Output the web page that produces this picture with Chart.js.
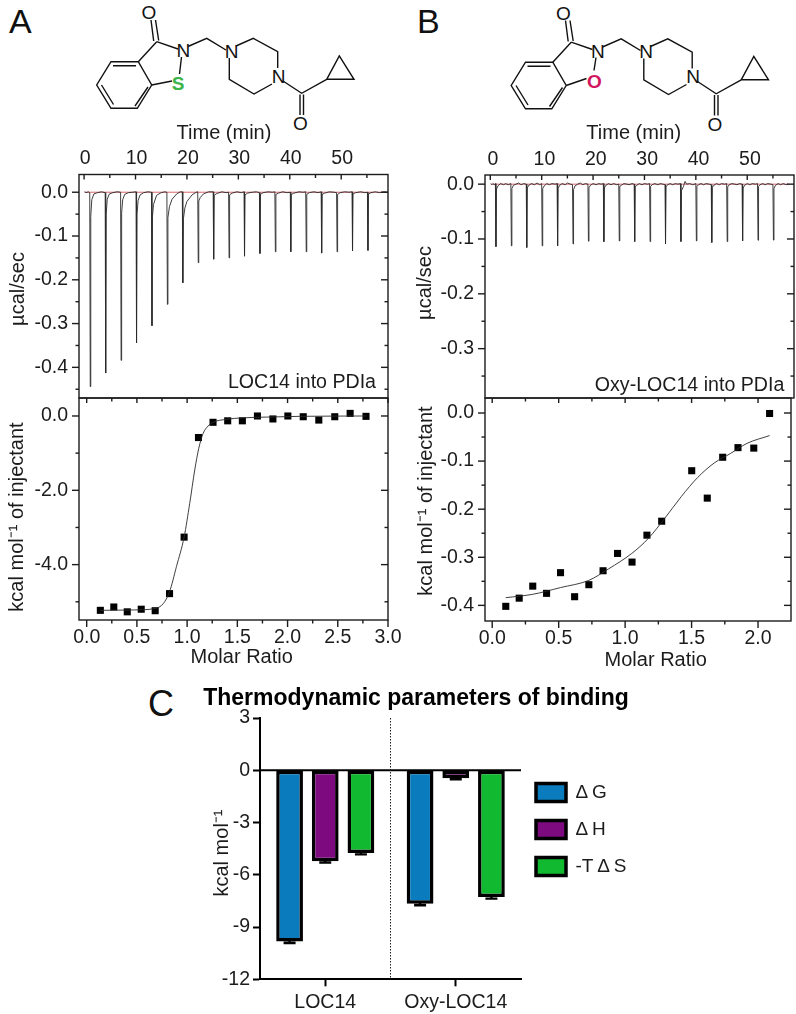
<!DOCTYPE html>
<html><head><meta charset="utf-8">
<style>
html,body{margin:0;padding:0;background:#fff;width:796px;height:1014px;overflow:hidden}
canvas{position:absolute;display:block}
svg{position:absolute;left:0;top:0}
</style>
<script src="https://cdn.jsdelivr.net/npm/chart.js@4"></script>
</head><body>
<svg width="796" height="1014" font-family="Liberation Sans">
<defs>
<g id="skeleton" fill="none" stroke="#111" stroke-width="1.4">
<path d="M138.3 61.7H111L96.7 85L111 108.3H137.3L151.7 85Z"/>
<path d="M113 65.7H136M101.5 85L113.5 104.5M148 87L135 106"/>
<path d="M156.7 41.7L138.3 61.7M178 49L156.7 41.7M153.7 41L151 20M158.7 40.5L155.5 20"/>
<path d="M188 46.5L206.7 38.3L226 50"/>
<path d="M236 46L253.3 38.3L277.7 51.7V68M272 84L254 94L229.3 79.3V58"/>
<path d="M283 81L301.7 93.3L326.7 79.3M326.7 79.3L339.3 56L354 79.3Z"/>
<path d="M300 94.5V115M303.5 94.5V115"/>
</g>
</defs>
<text x="9" y="33" font-size="34" fill="#111">A</text>
<use href="#skeleton"/>
<path d="M181.5 57L179.5 74M172 81L151.7 85" fill="none" stroke="#111" stroke-width="1.4"/>
<g font-size="19" fill="#111" text-anchor="middle">
<text x="149" y="19">O</text><text x="183.3" y="57">N</text><text x="231.7" y="57.5">N</text><text x="278.5" y="82.5">N</text><text x="300.5" y="130">O</text>
</g>
<text x="178" y="90" font-size="19" font-weight="bold" fill="#3bb44a" text-anchor="middle">S</text>
<text x="417" y="33" font-size="34" fill="#111">B</text>
<g transform="translate(414.5,0.5)">
<use href="#skeleton"/>
<path d="M181.5 57L179.5 70M172 78L151.7 85" fill="none" stroke="#111" stroke-width="1.4"/>
<g font-size="19" fill="#111" text-anchor="middle">
<text x="149" y="19">O</text><text x="183.3" y="57">N</text><text x="231.7" y="57.5">N</text><text x="278.5" y="82.5">N</text><text x="300.5" y="130">O</text>
</g>
<text x="180" y="87" font-size="19" font-weight="bold" fill="#d3145f" text-anchor="middle">O</text>
</g>
<text x="148" y="716" font-size="36" fill="#111">C</text>
</svg>
<script>
// ---------- axis ticks ----------
const timeMajor=[0,10,20,30,40,50];
const timeMinor=[5,15,25,35,45,55];
const rateAMajor=[0,-0.1,-0.2,-0.3,-0.4];
const rateAMinor=[-0.05,-0.15,-0.25,-0.35,-0.45];
const rateBMajor=[0,-0.1,-0.2,-0.3];
const rateBMinor=[-0.05,-0.15,-0.25,-0.35];
const ratioAMajor=[0,0.5,1,1.5,2,2.5,3];
const ratioAMinor=[0.25,0.75,1.25,1.75,2.25,2.75];
const heatAMajor=[0,-2,-4];
const heatAMinor=[-1,-3,-5];
const ratioBMajor=[0,0.5,1,1.5,2];
const ratioBMinor=[0.25,0.75,1.25,1.75];
const heatBMajor=[0,-0.1,-0.2,-0.3,-0.4];
const heatBMinor=[-0.05,-0.15,-0.25,-0.35];
const barTicks=[3,0,-3,-6,-9,-12];
// ---------- raw thermograms: [minutes, ucal/sec] ----------
const traceA=[[0.1,0.001],[0.4,-0.001],[0.8,0.001],[1.1,-0.001],[1.2,-0.444],[1.3,-0.055],[1.5,-0.017],[1.9,-0.004],[2.6,-0.001],[3.4,0.001],[4.1,-0.001],
[4.2,-0.413],[4.3,-0.05],[4.5,-0.016],[4.9,-0.004],[5.6,-0.001],[6.4,0.001],[7.1,0],
[7.2,-0.384],[7.3,-0.048],[7.5,-0.017],[7.9,-0.005],[8.6,-0.001],[9.4,0],[10.1,0.001],
[10.2,-0.344],[10.3,-0.05],[10.5,-0.019],[10.9,-0.006],[11.6,-0.001],[12.4,0.001],[13.1,0],
[13.2,-0.305],[13.3,-0.055],[13.5,-0.028],[14.1,-0.007],[15,-0.001],[15.7,0.001],[16.1,0],
[16.2,-0.256],[16.3,-0.058],[16.6,-0.033],[17.1,-0.016],[18,-0.004],[18.7,0.001],[19.1,0.001],
[19.2,-0.207],[19.32,-0.06],[19.6,-0.036],[20,-0.021],[21,-0.006],[21.8,0],[22.1,0.001],
[22.2,-0.161],[22.3,-0.02],[22.6,-0.012],[23.2,-0.004],[24.2,0.001],[25.1,0.001],
[25.2,-0.153],[25.3,-0.007],[25.8,-0.003],[26.8,0.001],[27.6,-0.001],[28.1,0],
[28.2,-0.15],[28.3,-0.006],[28.8,-0.002],[29.7,0.001],[30.6,-0.001],[31.1,0.001],
[31.2,-0.146],[31.3,-0.006],[31.8,-0.002],[32.7,0],[33.5,0.001],[34.1,-0.001],
[34.2,-0.14],[34.3,-0.005],[34.8,-0.001],[35.8,0.001],[36.6,0],[37.1,0.001],
[37.2,-0.136],[37.3,-0.005],[37.8,-0.002],[38.6,0.001],[39.5,-0.001],[40.1,0],
[40.2,-0.136],[40.3,-0.005],[40.8,-0.002],[41.8,0.001],[42.6,0],[43.1,0.001],
[43.2,-0.136],[43.3,-0.005],[43.8,-0.001],[44.7,0.001],[45.5,-0.001],[46.1,0.001],
[46.2,-0.139],[46.3,-0.005],[46.8,-0.002],[47.7,0.001],[48.6,0],[49.1,-0.001],
[49.2,-0.136],[49.3,-0.005],[49.8,-0.001],[50.7,0.001],[51.5,0],[52.1,0.001],
[52.2,-0.134],[52.3,-0.004],[52.8,-0.001],[53.8,0.001],[54.6,-0.001],[55.1,0],
[55.2,-0.133],[55.3,-0.004],[55.8,-0.001],[56.6,0.001],[57.5,-0.001],[58.4,0.001],[59,0]];
const traceB=[[0.1,0.001],[0.3,-0.001],[0.5,0.001],[0.8,-0.001],[1,0.001],
[1.1,-0.114],[1.2,-0.009],[1.5,-0.003],[2,0.001],[2.6,-0.001],[3,0.001],[3.5,-0.001],[4,0.001],
[4.1,-0.1125],[4.2,-0.008],[4.5,-0.002],[5,0],[5.5,0.002],[6,-0.001],[6.5,0.001],[7,0],
[7.1,-0.1155],[7.2,-0.007],[7.5,-0.002],[8,0.001],[8.6,-0.001],[9.1,0.002],[9.6,-0.001],[10,0.001],
[10.1,-0.1125],[10.2,-0.008],[10.5,-0.003],[11,0.001],[11.5,-0.001],[12,0.001],[12.6,0],[13,0.001],
[13.1,-0.1125],[13.2,-0.008],[13.5,-0.002],[14,0.001],[14.6,-0.001],[15,0.002],[15.6,0],[16,-0.001],
[16.1,-0.109],[16.2,-0.01],[16.5,-0.003],[17,0],[17.5,0.002],[18,-0.001],[18.5,0.001],[19,0],
[19.1,-0.104],[19.2,-0.006],[19.5,-0.002],[20,0.001],[20.6,-0.001],[21.1,0.001],[21.6,0],[22,0.001],
[22.1,-0.105],[22.2,-0.007],[22.5,-0.002],[23,0.001],[23.5,-0.001],[24,0.001],[24.6,-0.001],[25,0],
[25.1,-0.1035],[25.2,-0.004],[25.5,-0.002],[26,0.001],[26.6,0],[27,-0.001],[27.6,0.001],[28,0],
[28.1,-0.1047],[28.2,-0.005],[28.5,-0.002],[29,0.001],[29.5,-0.001],[30,0.001],[30.6,0],[31,0.001],
[31.1,-0.1047],[31.2,-0.004],[31.5,-0.001],[32,0.001],[32.6,-0.001],[33.1,0.001],[33.6,0],[34,-0.001],
[34.1,-0.109],[34.2,-0.005],[34.5,-0.001],[35,0.001],[35.5,-0.001],[36,0.001],[36.5,0],[37,0.001],
[37.1,-0.1047],[37.2,-0.012],[37.6,-0.004],[37.9,0.005],[38.2,0],[38.8,0.001],[39.4,-0.001],[40,0.001],
[40.1,-0.1035],[40.2,-0.004],[40.5,-0.001],[41,0.001],[41.5,-0.001],[42,0.001],[42.6,0],[43,-0.001],
[43.1,-0.1065],[43.2,-0.006],[43.5,-0.002],[44,0.001],[44.6,-0.001],[45,0.001],[45.6,0],[46,0.001],
[46.1,-0.1047],[46.2,-0.005],[46.5,-0.001],[47,0.001],[47.6,0],[48,-0.001],[48.5,0.001],[49,0],
[49.1,-0.1035],[49.2,-0.007],[49.5,-0.002],[50,0.001],[50.5,-0.001],[51,0.001],[51.6,0],[52,0.001],
[52.1,-0.1023],[52.2,-0.004],[52.5,-0.001],[53,0.001],[53.5,-0.001],[54,0.001],[54.6,0],[55,-0.001],
[55.1,-0.102],[55.2,-0.008],[55.5,-0.002],[56,0.001],[56.5,-0.001],[57,0.001],[57.6,-0.001],[58,0]];
const baselineA=[[0.1,0],[59,0]];
const baselineB=[[0.1,0],[58,0]];
// ---------- integrated heats ----------
const ratioA=[0.136,0.27,0.404,0.543,0.682,0.825,0.97,1.113,1.258,1.404,1.55,1.7,1.854,2.003,2.156,2.311,2.47,2.623,2.781];
const heatA=[-5.23,-5.14,-5.27,-5.2,-5.24,-4.78,-3.26,-0.58,-0.17,-0.13,-0.13,0,-0.08,0,-0.02,-0.11,-0.02,0.07,-0.01];
const fitA=[[0.136,-5.23],[0.464,-5.22],[0.682,-5.18],[0.762,-5.05],[0.825,-4.73],[0.894,-4.05],[0.97,-3.26],[1.026,-2.35],[1.076,-1.45],[1.116,-0.87],[1.159,-0.47],[1.209,-0.27],[1.258,-0.17],[1.391,-0.09],[1.556,-0.05],[1.788,-0.03],[2.119,-0.01],[2.781,0]];
const ratioB=[0.102,0.203,0.305,0.409,0.514,0.62,0.727,0.834,0.943,1.052,1.164,1.275,1.501,1.618,1.734,1.849,1.968,2.087];
const heatB=[-0.402,-0.385,-0.36,-0.375,-0.332,-0.382,-0.357,-0.328,-0.292,-0.31,-0.254,-0.225,-0.12,-0.177,-0.092,-0.072,-0.073,-0.001];
const fitB=[[0.102,-0.384],[0.305,-0.377],[0.514,-0.363],[0.727,-0.348],[0.876,-0.324],[1.05,-0.292],[1.174,-0.261],[1.298,-0.219],[1.422,-0.174],[1.546,-0.134],[1.67,-0.104],[1.794,-0.084],[1.918,-0.063],[2.087,-0.047]];
// ---------- thermodynamic parameters ----------
const compounds=['LOC14','Oxy-LOC14'];
const dG=[-9.83,-7.66];
const dH=[-5.23,-0.46];
const mTdS=[-4.75,-7.28];
const dGErr=[0.09,0.09];
const dHErr=[0.07,0.06];
const mTdSErr=[0.08,0.09];

const INK='#1c1c1c';
Chart.defaults.font.family='"Liberation Sans"';
Chart.defaults.color=INK;
Chart.defaults.animation=false;
Chart.defaults.devicePixelRatio=1;
const TICK=19.5, TITLE=20;

function placeTitle(scale,ax,ay,cx,cy){
  if(scale._placed)return; scale._placed=true;
  const orig=scale.drawTitle;
  scale.drawTitle=function(){
    const f=Chart.helpers.toFont(this.options.title.font), c=this.ctx;
    let nx,ny;
    if(this.isHorizontal()){nx=(this.left+this.right)/2;ny=this.position==='top'?this.top+f.lineHeight/2:this.bottom-f.lineHeight/2;}
    else{nx=this.left+f.lineHeight/2;ny=(this.top+this.bottom)/2;}
    c.save();c.translate(ax-cx-nx,ay-cy-ny);orig.call(this);c.restore();
  };
}
const noPad=s=>{s.paddingTop=s.paddingBottom=s.paddingLeft=s.paddingRight=0;};
const framePlugin={id:'frame',
  afterDatasetsDraw(chart,args,o){
    const {left:l,right:r,top:t,bottom:b}=chart.chartArea,c=chart.ctx,X=chart.scales.x,Y=chart.scales.y;
    c.save();c.strokeStyle=INK;c.lineWidth=1.4;c.strokeRect(l,t,r-l,b-t);
    const seg=(a,d,e,f)=>{c.beginPath();c.moveTo(a,d);c.lineTo(e,f);c.stroke();};
    for(const [arr,L] of [[o.xMajor,o.topMajor],[o.xMinor,o.topMinor]])for(const v of arr){const p=X.getPixelForValue(v);seg(p,t,p,t+L);if(o.bottom)seg(p,b,p,b+(arr===o.xMajor?7:3.5));}
    for(const [arr,L] of [[o.yMajor,7],[o.yMinor,3.5]])for(const v of arr){const p=Y.getPixelForValue(v);seg(l,p,l-L,p);seg(r,p,r-L,p);}
    if(o.label){c.fillStyle=INK;c.font=TITLE-0.4+'px "Liberation Sans"';c.textAlign='right';c.textBaseline='alphabetic';c.fillText(o.label,o.lx-o.cx,o.ly-o.cy);}
    c.restore();
  }};
function panel(id,cv,plot,cfg){
  const cn=document.createElement('canvas');cn.id=id;cn.width=cv[2];cn.height=cv[3];
  cn.style.left=cv[0]+'px';cn.style.top=cv[1]+'px';document.body.appendChild(cn);
  const [pl,pt,pr,pb]=plot, top=cfg.xPos==='top';
  return new Chart(cn,{type:'scatter',data:{datasets:cfg.datasets},plugins:[framePlugin],options:{
    responsive:false,
    layout:{padding:{left:0,right:cv[0]+cv[2]-pr,top:top?0:pt-cv[1],bottom:top?cv[1]+cv[3]-pb:0}},
    plugins:{legend:{display:false},tooltip:{enabled:false},
      frame:{xMajor:cfg.xMajor,xMinor:cfg.xMinor,yMajor:cfg.yMajor,yMinor:cfg.yMinor,topMajor:5,topMinor:3.5,bottom:!top,label:cfg.label,lx:cfg.lx,ly:cfg.ly,cx:cv[0],cy:cv[1]}},
    scales:{
      x:{type:'linear',position:cfg.xPos,min:cfg.xr[0],max:cfg.xr[1],grid:{display:false,drawTicks:false},border:{display:false},
        title:{display:true,text:cfg.xTitle,padding:0,font:{size:TITLE}},
        ticks:{padding:cfg.xPad,labelOffset:cfg.xOff||0,autoSkip:false,maxRotation:0,font:{size:TICK},callback:cfg.xFmt},
        afterBuildTicks:s=>{s.ticks=cfg.xMajor.map(value=>({value}));},
        afterFit:s=>{s.height=top?pt-cv[1]:cv[1]+cv[3]-pb;noPad(s);placeTitle(s,cfg.xt[0],cfg.xt[1],cv[0],cv[1]);}},
      y:{type:'linear',position:'left',min:cfg.yr[0],max:cfg.yr[1],grid:{display:false,drawTicks:false},border:{display:false},
        title:{display:true,text:cfg.yTitle,padding:0,font:{size:TITLE}},
        ticks:{padding:11,autoSkip:false,font:{size:TICK},callback:v=>v.toFixed(1)},
        afterBuildTicks:s=>{s.ticks=cfg.yMajor.map(value=>({value}));},
        afterFit:s=>{s.width=pl-cv[0];noPad(s);placeTitle(s,cfg.yt[0],cfg.yt[1],cv[0],cv[1]);}}
    }}});
}
const pts=a=>a.map(([x,y])=>({x,y}));
const zip=(xs,ys)=>xs.map((x,i)=>({x,y:ys[i]}));
const traceStyle={showLine:true,pointRadius:0,borderColor:'#2a2a2a',borderWidth:0.9,tension:0};
const redStyle={showLine:true,pointRadius:0,borderColor:'rgba(200,40,50,0.7)',borderWidth:1,tension:0};
const fitStyle={showLine:true,pointRadius:0,borderColor:'#2a2a2a',borderWidth:0.9,cubicInterpolationMode:'monotone'};
const dotStyle={showLine:false,pointStyle:'rect',pointRadius:5,backgroundColor:'#000',borderWidth:0};
const label0=v=>v.toFixed(0), label1=v=>v.toFixed(1);

panel('upperA',[0,118,410,281],[79,174.5,388,398],{xPos:'top',xr:[-0.99,59.1],yr:[-0.47,0.0405],
  xMajor:timeMajor,xMinor:timeMinor,yMajor:rateAMajor,yMinor:rateAMinor,xTitle:'Time (min)',yTitle:'µcal/sec',
  xt:[224,133],yt:[18,289],xPad:4,xOff:1,xFmt:label0,label:'LOC14 into PDIa',lx:376,ly:388,
  datasets:[{data:pts(traceA),...traceStyle},{data:pts(baselineA),...redStyle}]});
panel('lowerA',[0,388,410,290],[79,398,388,620],{xPos:'bottom',xr:[-0.0765,3],yr:[-5.49,0.484],
  xMajor:ratioAMajor,xMinor:ratioAMinor,yMajor:heatAMajor,yMinor:heatAMinor,xTitle:'Molar Ratio',yTitle:'kcal mol⁻¹ of injectant',
  xt:[241.7,657],yt:[17,517],xPad:6,xFmt:label1,
  datasets:[{data:pts(fitA),...fitStyle},{data:zip(ratioA,heatA),...dotStyle}]});
panel('upperB',[400,118,396,281],[485,175,794,398],{xPos:'top',xr:[-1.03,59.1],yr:[-0.39,0.0167],
  xMajor:timeMajor,xMinor:timeMinor,yMajor:rateBMajor,yMinor:rateBMinor,xTitle:'Time (min)',yTitle:'µcal/sec',
  xt:[633.7,133],yt:[425,283],xPad:4,xOff:2.7,xFmt:label0,label:'Oxy-LOC14 into PDIa',lx:784.3,ly:390.7,
  datasets:[{data:pts(traceB),...traceStyle},{data:pts(baselineB),...redStyle}]});
panel('lowerB',[400,388,396,290],[485,398,794,621],{xPos:'bottom',xr:[-0.0543,2.248],yr:[-0.4325,0.0312],
  xMajor:ratioBMajor,xMinor:ratioBMinor,yMajor:heatBMajor,yMinor:heatBMinor,xTitle:'Molar Ratio',yTitle:'kcal mol⁻¹ of injectant',
  xt:[655.7,660],yt:[426.7,501],xPad:6,xFmt:label1,
  datasets:[{data:pts(fitB),...fitStyle},{data:zip(ratioB,heatB),...dotStyle}]});

// ---------- panel C ----------
const errs=[dGErr,dHErr,mTdSErr];
const barPlugin={id:'barExtras',
  beforeLayout(chart){const g=chart.legend;if(g&&!g._w){g._w=true;const f=g.fit;g.fit=function(){f.call(this);this.width=171;};}},
  afterLayout(chart){const g=chart.legend;const w=g.width,h=g.height;g.left=378;g.right=g.left+w;g.top=85;g.bottom=g.top+h;},
  afterDatasetsDraw(chart){
    const c=chart.ctx,Y=chart.scales.y,a=chart.chartArea;
    c.save();c.strokeStyle='#000';
    chart.data.datasets.forEach((d,i)=>{chart.getDatasetMeta(i).data.forEach((el,j)=>{
      const hi=Y.getPixelForValue(d.data[j]+errs[i][j]),lo=Y.getPixelForValue(d.data[j]-errs[i][j]);
      c.lineWidth=2.4;c.beginPath();c.moveTo(el.x-6,hi);c.lineTo(el.x+6,hi);c.moveTo(el.x,hi);c.lineTo(el.x,lo);c.moveTo(el.x-6,lo);c.lineTo(el.x+6,lo);c.stroke();
    });});
    const z=Y.getPixelForValue(0);c.lineWidth=2;c.beginPath();c.moveTo(a.left,z);c.lineTo(a.right,z);c.stroke();
    const mid=(a.left+a.right)/2;c.lineWidth=1;c.setLineDash([1.5,1.5]);c.strokeStyle='#222';c.beginPath();c.moveTo(mid,a.top);c.lineTo(mid,a.bottom);c.stroke();
    c.restore();
  }};
const cn=document.createElement('canvas');cn.id='thermo';cn.width=552;cn.height=334;cn.style.left='140px';cn.style.top='680px';document.body.appendChild(cn);
const barStyle={borderColor:'#000',borderWidth:3.5,borderSkipped:false,categoryPercentage:0.82,barPercentage:0.75};
new Chart(cn,{type:'bar',plugins:[barPlugin],
  data:{labels:compounds,datasets:[
    {label:'Δ\u2009G',data:dG,backgroundColor:'#0a7cbd',...barStyle},
    {label:'Δ\u2009H',data:dH,backgroundColor:'#7e0a80',...barStyle},
    {label:'-T\u2009Δ\u2009S',data:mTdS,backgroundColor:'#10b92f',...barStyle}]},
  options:{responsive:false,
    layout:{padding:{left:0,right:0,top:0,bottom:0}},
    plugins:{tooltip:{enabled:false},
      title:{display:true,text:'Thermodynamic parameters of binding',color:'#000',font:{size:23,weight:'bold'},padding:{top:5,bottom:5.4}},
      legend:{position:'right',align:'start',labels:{boxWidth:30,boxHeight:18,padding:18,font:{size:19},color:INK}}},
    scales:{
      x:{grid:{offset:false,drawOnChartArea:false,tickLength:7,tickWidth:2,tickColor:'#000'},border:{color:'#000',width:2},
        ticks:{padding:5,font:{size:TICK}},afterFit:s=>{s.height=334-299.3;}},
      y:{min:-12,max:3,grid:{drawOnChartArea:false,tickLength:7,tickWidth:2,tickColor:'#000'},border:{color:'#000',width:2},
        title:{display:true,text:'kcal mol⁻¹',padding:0,font:{size:TITLE}},
        ticks:{padding:3,font:{size:TICK},callback:v=>String(v)},
        afterBuildTicks:s=>{s.ticks=barTicks.map(value=>({value}));},
        afterFit:s=>{s.width=120;placeTitle(s,222.7,853,140,680);}}
    }}});
</script>
</body></html>
